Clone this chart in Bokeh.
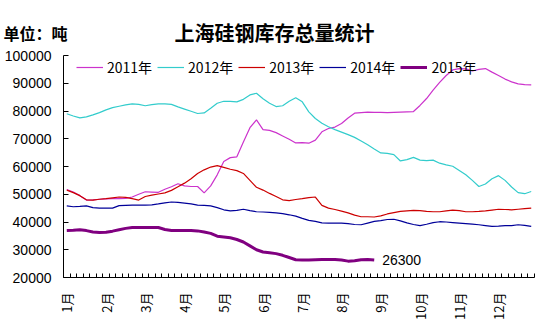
import math
from bokeh.plotting import figure
from bokeh.layouts import column
from bokeh.models import (FixedTicker, Legend, LegendItem, Label, Range1d,
                          NumeralTickFormatter)
from bokeh.core.properties import value
from bokeh.embed import file_html
from bokeh.resources import INLINE

title_text = "上海硅钢库存总量统计"
unit_text = "单位：吨"
months = ["1月", "2月", "3月", "4月", "5月", "6月",
          "7月", "8月", "9月", "10月", "11月", "12月"]
n_cat = 72
per_month = 6
series_names = ["2011年", "2012年", "2013年", "2014年", "2015年"]
y_ticks = [20000, 30000, 40000, 50000, 60000, 70000, 80000, 90000, 100000]

y2011 = [51700, 50800, 49500, 47900, 48000, 48200, 48300, 48400, 48400, 48500,
         49000, 50000, 50900, 50800, 50700, 51800, 52700, 53800, 53000, 52800,
         52800, 50500, 53000, 57000, 61800, 63200, 63500, 68800, 74000, 76800,
         73300, 73000, 72200, 71000, 69800, 68500, 68600, 68400, 69500, 72500,
         73700, 74200, 75500, 77500, 79200, 79400, 79600, 79500, 79500, 79400,
         79500, 79600, 79700, 79800, 82000, 84500, 87500, 90300, 92800, 94800,
         95300, 95200, 94400, 95000, 95300, 94000, 92800, 91500, 90500, 89800,
         89500, 89400]
y2012 = [79000, 78200, 77500, 77900, 78600, 79400, 80400, 81200, 81700, 82200,
         82600, 82400, 81900, 82300, 82600, 82600, 82400, 81500, 80700, 79900,
         79100, 79300, 81000, 82800, 83500, 83500, 83300, 84200, 85800, 86400,
         84400, 82800, 81600, 81900, 83500, 84800, 83300, 79700, 77300, 75600,
         74300, 73300, 72400, 71500, 70500, 69200, 67800, 66300, 64900, 64700,
         64300, 62000, 62500, 63300, 62300, 62100, 62300, 61200, 60600, 60100,
         58600, 57000, 55000, 52800, 53700, 55600, 56700, 55000, 52600, 50600,
         50200, 51000]
y2013 = [51500, 50600, 49500, 48000, 47900, 48200, 48400, 48700, 49000, 48900,
         48400, 47900, 49200, 49700, 50100, 50500, 51400, 52700, 54000, 55600,
         57500, 58800, 59800, 60300, 59700, 59000, 58500, 57500, 55000, 52500,
         51500, 50300, 49200, 48000, 47700, 48100, 48400, 48800, 49000, 46000,
         45000, 44500, 43900, 43300, 42500, 41900, 41900, 41800, 42200, 42900,
         43400, 43800, 44000, 44200, 44100, 43800, 43700, 43700, 44000, 44300,
         44100, 43700, 43700, 43800, 44000, 44300, 44600, 44500, 44400, 44600,
         44800, 45000]
y2014 = [45800, 45500, 45600, 45800, 45200, 45000, 45000, 45000, 45900, 46000,
         46100, 46100, 46100, 46200, 46500, 46900, 47200, 47100, 46800, 46500,
         46100, 46000, 45800, 45200, 44400, 44000, 44200, 44600, 44100, 43700,
         43600, 43500, 43300, 43000, 42600, 42100, 41300, 40600, 40200, 39700,
         39600, 39600, 39600, 39400, 39100, 39000, 39600, 40200, 40500, 40900,
         41000, 40400, 39700, 39100, 38700, 39200, 39800, 40100, 40000, 39800,
         39600, 39400, 39200, 39000, 38700, 38400, 38500, 38700, 38700, 39000,
         38800, 38400]
y2015 = [36900, 37000, 37200, 36900, 36400, 36200, 36300, 36700, 37200, 37700,
         38000, 38000, 38000, 38000, 38000, 37300, 36900, 36900, 36900, 36900,
         36800, 36400, 35900, 34900, 34600, 34300, 33700, 32800, 31400, 30000,
         29200, 28900, 28600, 28000, 27200, 26400, 26300, 26300, 26400, 26500,
         26500, 26500, 26300, 25900, 26000, 26400, 26500, 26300]
last_label = "26300"

colors = ["#CC33CC", "#33CCCC", "#CC0000", "#000099", "#800080"]
widths = [1.2, 1.2, 1.2, 1.2, 3]
all_series = [y2011, y2012, y2013, y2014, y2015]

NUM_FONT = "Liberation Sans"
CJK_FONT = "Noto Sans CJK SC"
W, H_HEAD, H_MAIN = 552, 47, 277

# ---- header (title + unit) ----
head = figure(width=W, height=H_HEAD, output_backend="svg", toolbar_location=None,
              x_range=Range1d(0, W), y_range=Range1d(H_HEAD, 0),
              x_axis_type=None, y_axis_type=None,
              min_border_left=0, min_border_right=0, min_border_top=0, min_border_bottom=0)
head.frame_align = False
head.outline_line_color = None
head.grid.visible = False
head.background_fill_color = "white"
head.border_fill_color = "white"
head.text(x=[274], y=[32], text=[title_text], text_align="center", text_baseline="middle",
          text_font=value(CJK_FONT), text_font_style="bold",
          text_font_size="20px", text_color="black")
head.text(x=[3], y=[32], text=[unit_text], text_align="left", text_baseline="middle",
          text_font=value(CJK_FONT), text_font_style="bold",
          text_font_size="16px", text_color="black")

# ---- main chart ----
p = figure(width=W, height=H_MAIN, output_backend="svg", toolbar_location=None,
           x_range=Range1d(0, n_cat), y_range=Range1d(20000, 100000),
           min_border_left=63, min_border_right=18,
           min_border_top=8, min_border_bottom=47)
p.frame_align = False
p.outline_line_color = None
p.grid.visible = False
p.background_fill_color = "white"
p.border_fill_color = "white"

renderers = []
for ys, c, w in zip(all_series, colors, widths):
    xs = [i + 0.5 for i in range(len(ys))]
    r = p.line(xs, ys, line_color=c, line_width=w)
    renderers.append(r)

# x axis
label_pos = [k * per_month + 0.5 for k in range(len(months))]
p.xaxis.ticker = FixedTicker(ticks=label_pos, minor_ticks=list(range(n_cat + 1)))
p.xaxis.major_label_overrides = {pos: m for pos, m in zip(label_pos, months)}
p.xaxis.major_label_orientation = math.pi / 2
p.xaxis.major_tick_in = 0
p.xaxis.major_tick_out = 0
p.xaxis.minor_tick_in = 4
p.xaxis.minor_tick_out = 0
p.xaxis.major_label_standoff = 15
p.xaxis.major_label_text_font_size = "13px"
p.xaxis.major_label_text_font = CJK_FONT

# y axis
p.yaxis.ticker = FixedTicker(ticks=y_ticks)
p.yaxis.formatter = NumeralTickFormatter(format="0")
p.yaxis.major_tick_in = 5
p.yaxis.major_tick_out = 0
p.yaxis.minor_tick_in = 0
p.yaxis.minor_tick_out = 0
p.yaxis.major_label_standoff = 12
p.yaxis.major_label_text_font_size = "14px"
p.yaxis.major_label_text_font = NUM_FONT

for ax in (p.xaxis[0], p.yaxis[0]):
    ax.axis_line_color = "black"
    ax.major_tick_line_color = "black"
    ax.minor_tick_line_color = "black"
    ax.major_label_text_color = "black"

legend = Legend(items=[LegendItem(label=n, renderers=[r]) for n, r in zip(series_names, renderers)],
                orientation="horizontal", location=(13, 200),
                glyph_width=27, glyph_height=14, label_height=14,
                label_standoff=4, spacing=5, padding=0, margin=0,
                border_line_alpha=0, background_fill_alpha=0,
                label_text_font_size="14px", label_text_font=CJK_FONT,
                label_text_color="black")
p.add_layout(legend)

p.add_layout(Label(x=len(y2015) - 0.5, y=y2015[-1], text=last_label, x_offset=8,
                   text_baseline="middle", text_font_size="14px",
                   text_font=NUM_FONT, text_color="black"))

layout = column(head, p, spacing=0)
open("out.html", "w").write(file_html(layout, INLINE))
